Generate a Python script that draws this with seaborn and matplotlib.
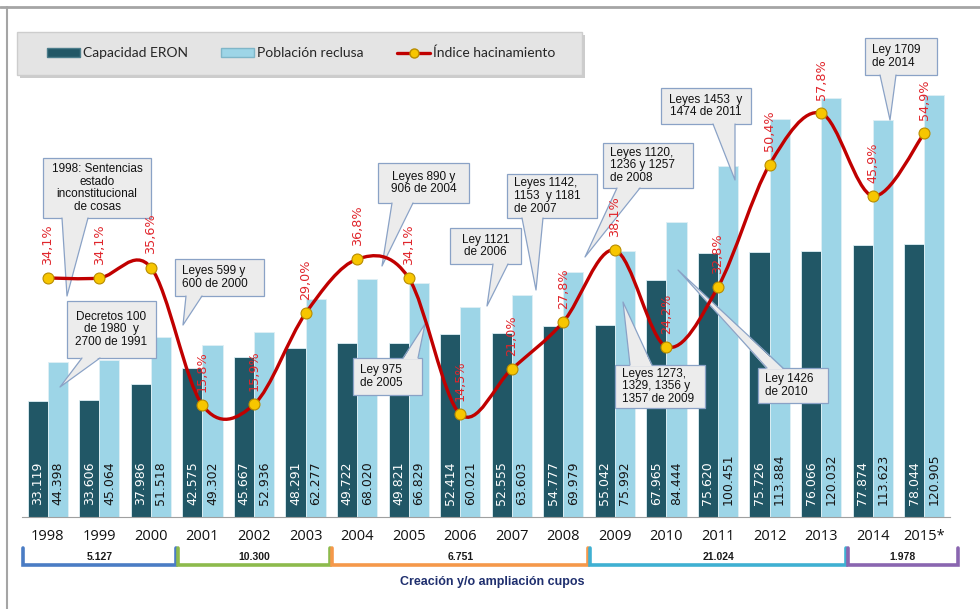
import numpy as np
import pandas as pd
import matplotlib
matplotlib.use("Agg")
import matplotlib.pyplot as plt
import seaborn as sns
from matplotlib.path import Path
from matplotlib.patches import PathPatch, Rectangle, Polygon, Patch
from matplotlib.lines import Line2D

# Datos
anios = ['1998', '1999', '2000', '2001', '2002', '2003', '2004', '2005', '2006',
         '2007', '2008', '2009', '2010', '2011', '2012', '2013', '2014', '2015*']
capacidad = [33119, 33606, 37986, 42575, 45667, 48291, 49722, 49821, 52414,
             52555, 54777, 55042, 67965, 75620, 75726, 76066, 77874, 78044]
poblacion = [44398, 45064, 51518, 49302, 52936, 62277, 68020, 66829, 60021,
             63603, 69979, 75992, 84444, 100451, 113884, 120032, 113623, 120905]
hacinamiento = [34.1, 34.1, 35.6, 15.8, 15.9, 29.0, 36.8, 34.1, 14.5,
                21.0, 27.8, 38.1, 24.2, 32.8, 50.4, 57.8, 45.9, 54.9]

grupos_valor = [5127, 10300, 6751, 21024, 1978]
grupos_desde = [0, 3, 6, 11, 16]
grupos_hasta = [2, 5, 10, 15, 17]
grupos_color = ['#4a7cc4', '#8dba4c', '#f5984a', '#3fb0d2', '#8a66b0']

series = ['Capacidad ERON', 'Población reclusa']
c_osc = '#215766'
c_cla = '#9dd5e7'
c_rojo = '#c00000'
c_txt_rojo = '#e0252b'

df = pd.DataFrame({
    'anio': anios * 2,
    'serie': [series[0]] * len(anios) + [series[1]] * len(anios),
    'valor': capacidad + poblacion,
})

sns.set_style('white')
plt.rcParams['font.family'] = ['DejaVu Sans']

W, H = 980, 609
fig = plt.figure(figsize=(W / 100, H / 100), dpi=100)
fig.patch.set_facecolor('white')

def fx(x):
    return x / W

def fy(y):
    return 1 - y / H

ax = fig.add_axes([fx(22), fy(517), fx(950) - fx(22), fy(75) - fy(517)])
ax.set_zorder(0)
sns.barplot(data=df, x='anio', y='valor', hue='serie', hue_order=series,
            palette=[c_osc, c_cla], width=0.78, saturation=1, legend=False,
            edgecolor='#dff0f5', linewidth=0.6, ax=ax)
ax.set_ylim(0, 126500)

# etiquetas de valor dentro de las barras
for cont, col in zip(ax.containers, ['white', '#151515']):
    for bar in cont:
        v = int(round(bar.get_height()))
        ax.annotate(f"{v:,}".replace(',', '.'),
                    (bar.get_x() + bar.get_width() / 2, 0),
                    xytext=(0, 8.6), textcoords='offset points',
                    rotation=90, ha='center', va='bottom',
                    fontsize=9, color=col, zorder=4)

ax.set_xlabel('')
ax.set_ylabel('')
ax.set_yticks([])
for s in ['left', 'right', 'top']:
    ax.spines[s].set_visible(False)
ax.spines['bottom'].set_color('#a0a0a0')
ax.tick_params(axis='x', which='major', length=0, pad=9)
ax.set_xticks(np.arange(-0.5, len(anios), 1), minor=True)
ax.tick_params(axis='x', which='minor', length=4, color='#a0a0a0')
for lab in ax.get_xticklabels():
    lab.set_fontfamily('Open Sans')
    lab.set_fontsize(10.5)
    lab.set_color('#111111')

# indice de hacinamiento: eje secundario
ax2 = ax.twinx()
ax2.set_zorder(1)
ax2.patch.set_visible(False)
xs = np.arange(len(hacinamiento), dtype=float)
ys = np.array(hacinamiento)
n = len(xs)
verts = [(xs[0], ys[0])]
codes = [Path.MOVETO]
for i in range(n - 1):
    a = max(i - 1, 0)
    b = min(i + 2, n - 1)
    c1 = (xs[i] + (xs[i + 1] - xs[a]) / 6, ys[i] + (ys[i + 1] - ys[a]) / 6)
    c2 = (xs[i + 1] - (xs[b] - xs[i]) / 6, ys[i + 1] - (ys[b] - ys[i]) / 6)
    verts += [c1, c2, (xs[i + 1], ys[i + 1])]
    codes += [Path.CURVE4, Path.CURVE4, Path.CURVE4]
ax2.add_patch(PathPatch(Path(verts, codes), fill=False, ec=c_rojo, lw=2.4,
                        capstyle='round', zorder=3))
sns.scatterplot(x=xs, y=ys, ax=ax2, s=62, color='#f7c600',
                edgecolor='#b88c00', linewidth=0.8, zorder=5)
for x, p in zip(xs, hacinamiento):
    ax2.annotate(f"{p:.1f}%".replace('.', ','), (x, p), xytext=(0, 9.5),
                 textcoords='offset points', rotation=90, ha='center',
                 va='bottom', fontsize=9.2, color=c_txt_rojo, zorder=6)
ax2.set_ylim(-0.29, 63.3)
ax2.set_yticks([])
ax2.set_ylabel('')
for s in ['left', 'right', 'top', 'bottom']:
    ax2.spines[s].set_visible(False)
ax.set_xlim(-0.5, len(anios) - 0.5)

# llaves de creacion de cupos
tr = ax.get_xaxis_transform()
yb_top = (517 - 548) / 442
yb_bot = (517 - 565) / 442
for k, (val, d, h, col) in enumerate(zip(grupos_valor, grupos_desde, grupos_hasta, grupos_color)):
    x0 = d - 0.5 + 0.02
    x1 = h + 0.5 - 0.02 + (0.17 if k == len(grupos_valor) - 1 else 0)
    ax.plot([x0, x0, x1, x1], [yb_top, yb_bot, yb_bot, yb_top], color=col,
            lw=2.6, transform=tr, clip_on=False, solid_joinstyle='miter')
    ax.text((x0 + x1) / 2, (517 - 557) / 442, f"{val:,}".replace(',', '.'),
            transform=tr, ha='center', va='center', fontsize=7.5,
            fontweight='bold', family='Liberation Sans', color='#1a1a1a')
fig.text(fx(492), fy(582), 'Creación y/o ampliación cupos', ha='center',
         va='center', fontsize=9, fontweight='bold', family='Liberation Sans',
         color='#1f2f6e')

# marco
fig.add_artist(Line2D([0, 1], [fy(7), fy(7)], color='#a5a5a5', lw=2,
                      transform=fig.transFigure))
fig.add_artist(Line2D([fx(7), fx(7)], [0, fy(7)], color='#a5a5a5', lw=1.5,
                      transform=fig.transFigure))

# leyenda
fig.add_artist(Rectangle((fx(20), fy(78)), fx(565), 43 / H, transform=fig.transFigure,
                         fc='#9a9a9a', ec='none', alpha=0.5, zorder=1.2))
fig.add_artist(Rectangle((fx(17), fy(75)), fx(565), 43 / H, transform=fig.transFigure,
                         fc='#e4e4e4', ec='#cdcdcd', lw=1, zorder=1.5))
handles = [Patch(fc=c_osc, ec='#4c7d8b'), Patch(fc=c_cla, ec='#7fb6c8'),
           Line2D([0], [0], color=c_rojo, lw=2.4, marker='o', markersize=6.5,
                  mfc='#f7c600', mec='#b88c00')]
leg = fig.legend(handles, ['Capacidad ERON', 'Población reclusa', 'Índice hacinamiento'],
                 loc='center', bbox_to_anchor=(fx(301), fy(53)), ncol=3,
                 frameon=False, prop={'family': 'Lato', 'size': 10},
                 handlelength=2.4, handleheight=0.55, handletextpad=0.2,
                 columnspacing=2.4)
leg.set_zorder(2)

# globos de texto (entre las barras y la linea)
def globo(texto, caja, lado, base, punta, ha='left'):
    x0, y0, x1, y1 = caja
    fc, ec = '#ececec', '#8aa2c6'
    fig.add_artist(Rectangle((fx(x0), fy(y1)), fx(x1 - x0), (y1 - y0) / H,
                             transform=fig.transFigure, fc=fc, ec=ec, lw=0.9, zorder=0.3))
    ye = y1 if lado == 'bottom' else y0
    yi = ye - 1.2 if lado == 'bottom' else ye + 1.2
    fig.add_artist(Polygon([(fx(base[0]), fy(yi)), (fx(punta[0]), fy(punta[1])),
                            (fx(base[1]), fy(yi))], closed=True,
                           transform=fig.transFigure, fc=fc, ec='none', zorder=0.4))
    fig.add_artist(Line2D([fx(base[0]), fx(punta[0]), fx(base[1])],
                          [fy(ye), fy(punta[1]), fy(ye)], color=ec, lw=0.9,
                          transform=fig.transFigure, zorder=0.4))
    tx = x0 + 7 if ha == 'left' else (x0 + x1) / 2
    fig.text(fx(tx), fy((y0 + y1) / 2), texto, ha=ha, va='center',
             multialignment=ha, fontsize=8.5, family='Liberation Sans',
             linespacing=1.08, color='#111111', zorder=0.5)

globo('1998: Sentencias\nestado\ninconstitucional\nde cosas', (43, 158, 151, 218),
      'bottom', (62, 88), (67, 296), 'center')
globo('Decretos 100\nde 1980  y\n2700 de 1991', (67, 301, 156, 358),
      'bottom', (82, 100), (60, 387), 'center')
globo('Leyes 599 y\n600 de 2000', (175, 259, 264, 296), 'bottom', (186, 202), (183, 325))
globo('Leyes 890 y\n906 de 2004', (378, 163, 469, 203), 'bottom', (392, 413), (382, 266), 'center')
globo('Ley 975\nde 2005', (353, 358, 422, 395), 'top', (403, 418), (425, 324))
globo('Ley 1121\nde 2006', (450, 228, 521, 264), 'bottom', (493, 508), (487, 306), 'center')
globo('Leyes 1142,\n1153  y 1181\nde 2007', (507, 174, 597, 218), 'bottom', (522, 543), (536, 290))
globo('Leyes 1120,\n1236 y 1257\nde 2008', (603, 143, 693, 188), 'bottom', (617, 640), (585, 257))
globo('Leyes 1273,\n1329, 1356 y\n1357 de 2009', (615, 365, 705, 408), 'top', (630, 652), (623, 302))
globo('Ley 1426\nde 2010', (758, 368, 828, 403), 'top', (767, 783), (678, 270))
globo('Leyes 1453  y\n1474 de 2011', (661, 88, 751, 124), 'bottom', (713, 735), (735, 180), 'center')
globo('Ley 1709\nde 2014', (865, 38, 937, 75), 'bottom', (880, 896), (890, 120))

fig.savefig('out.png', dpi=100)
